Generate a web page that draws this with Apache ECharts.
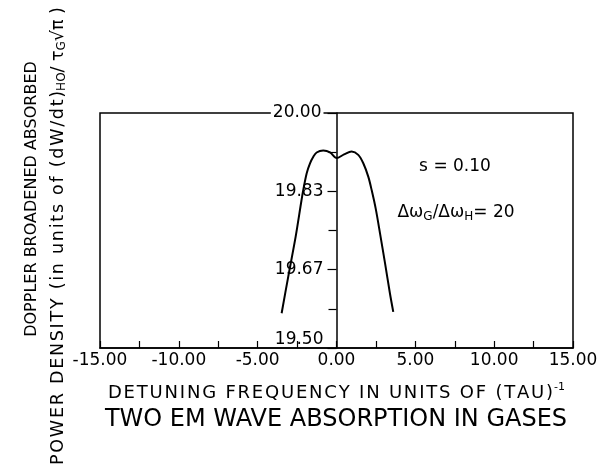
<!DOCTYPE html>
<html>
<head>
<meta charset="utf-8">
<script src="https://cdn.jsdelivr.net/npm/echarts@6/dist/echarts.min.js"></script>
<style>
html, body { margin: 0; padding: 0; background: #fff; }
#main { width: 603px; height: 468px; }
</style>
</head>
<body>
<div id="main"></div>
<script>
// detuning frequency (units of 1/tau) and absorbed power density
var detuning = [-3.48, -3.06, -2.59, -2.25, -2.11, -1.89, -1.68, -1.47, -1.26, -0.84, -0.41, 0.01, 0.48, 0.96, 1.38, 1.70, 2.02, 2.23, 2.49, 2.76, 3.08, 3.39, 3.60];
var density  = [19.574, 19.652, 19.737, 19.808, 19.836, 19.872, 19.893, 19.907, 19.916, 19.920, 19.916, 19.904, 19.912, 19.918, 19.911, 19.893, 19.864, 19.836, 19.796, 19.744, 19.680, 19.616, 19.577];
var xRange = [-15, 15];
var yRange = [19.50, 20.00];

var font = 'DejaVu Sans';
var chart = echarts.init(document.getElementById('main'));

// lettering on the original is widely spaced, fake it with hair spaces
function sp(s) { return s.split('').join('\u200A'); }

var pts = detuning.map(function (x, i) { return [x, density[i]]; });

var option = {
	backgroundColor: '#fff',
	animation: false,
	grid: {
		left: 100, right: 30, top: 113, bottom: 120,
		show: true, borderColor: '#000', borderWidth: 1.5, backgroundColor: 'transparent'
	},
	xAxis: {
		type: 'value',
		min: xRange[0], max: xRange[1], interval: 5,
		axisLine: { onZero: false, lineStyle: { color: '#000', width: 1.5 } },
		axisTick: { inside: true, length: 7, lineStyle: { color: '#000', width: 1.2 } },
		minorTick: { show: true, splitNumber: 2, length: 7, lineStyle: { color: '#000', width: 1.2 } },
		splitLine: { show: false },
		axisLabel: {
			margin: 4, color: '#000', fontFamily: font, fontSize: 17,
			formatter: function (v) { return v.toFixed(2); }
		},
		name: '{t|' + sp('DETUNING FREQUENCY IN UNITS OF (TAU)') + '}{s|-1}',
		nameLocation: 'middle',
		nameGap: 34,
		nameTextStyle: {
			rich: {
				t: { fontFamily: font, fontSize: 18, color: '#000' },
				s: { fontFamily: font, fontSize: 11, color: '#000', verticalAlign: 'top', padding: [0, 0, 12, 1] }
			}
		}
	},
	yAxis: {
		type: 'value',
		position: 'left',
		offset: -236.5,
		min: yRange[0], max: yRange[1], interval: 1 / 6,
		axisLine: { onZero: false, lineStyle: { color: '#000', width: 1.5 } },
		axisTick: { length: 9, lineStyle: { color: '#000', width: 1.2 } },
		minorTick: { show: true, splitNumber: 2, length: 8, lineStyle: { color: '#000', width: 1.2 } },
		splitLine: { show: false },
		axisLabel: {
			margin: 13, color: '#000', fontFamily: font, fontSize: 17,
			formatter: function (v) {
				var s = v.toFixed(2);
				if (s === '19.50') return '{lo|' + s + '}';
				if (s === '20.00') return '{hi|' + s + '}';
				return s;
			},
			rich: {
				lo: { fontFamily: font, fontSize: 17, color: '#000', padding: [0, 0, 16, 0] },
				hi: { fontFamily: font, fontSize: 17, color: '#000', backgroundColor: '#fff', padding: [0, 2, 0, 2] }
			}
		}
	},
	series: [{
		type: 'line',
		data: pts,
		smooth: 0.3,
		showSymbol: false,
		lineStyle: { color: '#000', width: 2 }
	}],
	graphic: [
		{
			type: 'text', x: 336, y: 420,
			style: {
				text: 'TWO EM WAVE ABSORPTION IN GASES',
				font: '24px "DejaVu Sans"', fill: '#000', align: 'center', verticalAlign: 'middle'
			}
		},
		{
			type: 'text', x: 32, y: 199, rotation: Math.PI / 2,
			style: {
				text: 'DOPPLER BROADENED ABSORBED',
				font: '16px "DejaVu Sans"', fill: '#000', align: 'center', verticalAlign: 'middle'
			}
		},
		{
			type: 'text', x: 58, y: 236, rotation: Math.PI / 2,
			style: {
				text: '{n|' + sp('POWER DENSITY (in units of (dW/dt)') + '}{b|HO}{n|/ τ}{b|G}{n|√π )}',
				align: 'center', verticalAlign: 'middle',
				rich: {
					n: { fontFamily: font, fontSize: 17.5, fill: '#000' },
					b: { fontFamily: font, fontSize: 12, fill: '#000', verticalAlign: 'bottom', padding: [8, 0, 0, 0] }
				}
			}
		},
		{
			type: 'text', x: 455, y: 167,
			style: {
				text: 's = 0.10',
				font: '17px "DejaVu Sans"', fill: '#000', align: 'center', verticalAlign: 'middle'
			}
		},
		{
			type: 'text', x: 456, y: 213,
			style: {
				text: '{n|Δω}{b|G}{n|/Δω}{b|H}{n|= 20}',
				align: 'center', verticalAlign: 'middle',
				rich: {
					n: { fontFamily: font, fontSize: 17, fill: '#000' },
					b: { fontFamily: font, fontSize: 12, fill: '#000', verticalAlign: 'bottom', padding: [8, 0, 0, 0] }
				}
			}
		}
	]
};

chart.setOption(option);
window.onresize = function () { chart.resize(); };
</script>
</body>
</html>
